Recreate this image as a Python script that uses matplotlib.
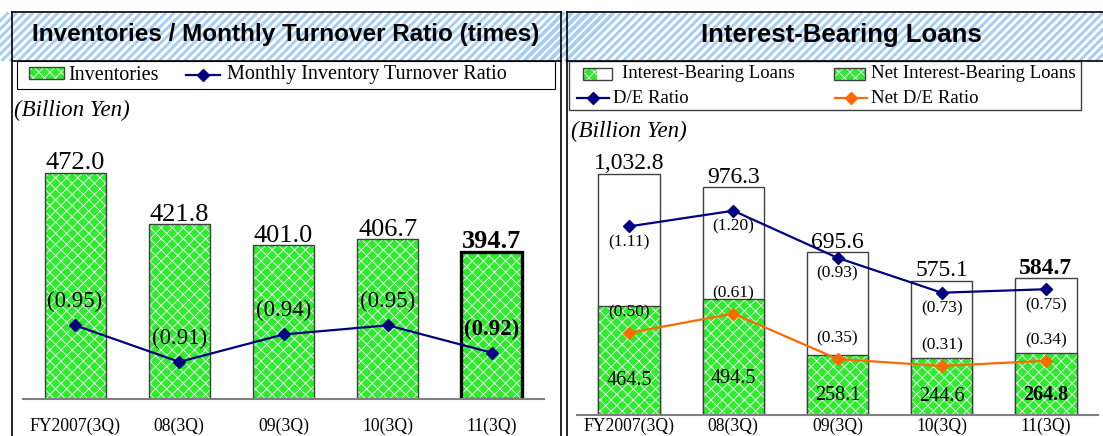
#!/usr/bin/env python3
"""Inventories / turnover and interest-bearing loans panels (3Q results)."""

import matplotlib

matplotlib.use("Agg")

import matplotlib.pyplot as plt
import numpy as np
from matplotlib.collections import LineCollection
from matplotlib.patches import Rectangle

periods = ["FY2007(3Q)", "08(3Q)", "09(3Q)", "10(3Q)", "11(3Q)"]
inventories = [472.0, 421.8, 401.0, 406.7, 394.7]
turnover = [0.95, 0.91, 0.94, 0.95, 0.92]
loans = [1032.8, 976.3, 695.6, 575.1, 584.7]
net_loans = [464.5, 494.5, 258.1, 244.6, 264.8]
de_ratio = [1.11, 1.20, 0.93, 0.73, 0.75]
net_de_ratio = [0.50, 0.61, 0.35, 0.31, 0.34]

W, H = 1103, 436
SERIF = "Liberation Serif"
SANS = "Liberation Sans"
GREEN = "#30ea30"
NAVY = "#000080"
ORANGE = "#ff6a00"
EDGE = "#404040"
STRIPE = "#a6cdf4"
INV_FLOOR = 251.0

plt.rcParams["hatch.linewidth"] = 0.6


def fig_rect(x0, y0, x1, y1):
    return [x0 / W, 1 - y1 / H, (x1 - x0) / W, (y1 - y0) / H]


def green_fill(ax, x, heights, width, bottom=0.0):
    ax.bar(x, heights, width, bottom=bottom, color=GREEN, edgecolor="white",
           hatch="xxx", linewidth=0, zorder=1)


def clean_axis(ax, keep_bottom=True):
    for name, spine in ax.spines.items():
        spine.set_visible(keep_bottom and name == "bottom")
    ax.spines["bottom"].set_color("#808080")
    ax.spines["bottom"].set_linewidth(1.5)
    ax.set_yticks([])
    ax.patch.set_visible(False)


def title_band(frame, x0, x1, text, cx, size):
    band = Rectangle((x0, 12.5), x1 - x0, 48.5, facecolor="white", edgecolor="none")
    frame.add_patch(band)
    segs = [[(s, 61), (s + 48.5, 12.5)] for s in np.arange(x0 - 52, x1 + 8, 8.3)]
    lc = LineCollection(segs, colors=STRIPE, linewidths=2.1)
    lc.set_clip_path(band)
    frame.add_collection(lc)
    frame.text(cx, 35, text, ha="center", va="center", fontsize=size,
               fontweight="bold", family=SANS)


def legend_patch(frame, x0, y0, x1, y1, split=None):
    right = x1 if split is None else split
    frame.add_patch(Rectangle((x0, y0), right - x0, y1 - y0, facecolor=GREEN,
                              edgecolor="white", hatch="xxx", linewidth=0))
    frame.add_patch(Rectangle((x0, y0), x1 - x0, y1 - y0, fill=False,
                              edgecolor=EDGE, linewidth=1.0))


def legend_line(frame, x0, x1, y, color):
    frame.plot([x0, x1], [y, y], color=color, lw=1.6)
    frame.plot([(x0 + x1) / 2], [y], marker="D", ms=6, color=color)


fig = plt.figure(figsize=(W / 100, H / 100), dpi=100)

# frame, title bands and legends, drawn in pixel coordinates
frame = fig.add_axes([0, 0, 1, 1])
frame.set_xlim(0, W)
frame.set_ylim(H, 0)
frame.axis("off")

title_band(frame, 12, 561, "Inventories / Monthly Turnover Ratio (times)", 286, 17.5)
title_band(frame, 567, W + 2, "Interest-Bearing Loans", 841, 18.5)

for xs, ys in [
    ([12, 12], [12.5, H]), ([561, 561], [12.5, H]), ([12, 561], [12.5, 12.5]),
    ([12, 561], [61, 61]), ([567, 567], [12.5, H]), ([567, W], [12.5, 12.5]),
    ([567, W], [61, 61]),
]:
    frame.plot(xs, ys, color="black", lw=1.2, clip_on=False)

frame.add_patch(Rectangle((17, 61), 538, 28.3, facecolor="white",
                          edgecolor="black", linewidth=0.8))
legend_patch(frame, 29, 67, 64, 79)
frame.text(68, 75, "Inventories", va="center", fontsize=14.5, family=SERIF)
legend_line(frame, 186, 220, 75, NAVY)
frame.text(227, 75, "Monthly Inventory Turnover Ratio", va="center",
           fontsize=14.5, family=SERIF)
frame.text(14, 110, "(Billion Yen)", va="center", fontsize=16.5,
           family=SERIF, style="italic")

frame.add_patch(Rectangle((569, 61), 512, 49, facecolor="white",
                          edgecolor=EDGE, linewidth=1.0))
legend_patch(frame, 583, 68, 612, 80, split=597)
frame.text(622, 73, "Interest-Bearing Loans", va="center", fontsize=13.5, family=SERIF)
legend_patch(frame, 834, 68, 865, 80)
frame.text(871, 73, "Net Interest-Bearing Loans", va="center", fontsize=13.5, family=SERIF)
legend_line(frame, 577, 609, 98, NAVY)
frame.text(613, 98, "D/E Ratio", va="center", fontsize=13.5, family=SERIF)
legend_line(frame, 835, 867, 98, ORANGE)
frame.text(871, 98, "Net D/E Ratio", va="center", fontsize=13.5, family=SERIF)
frame.text(571, 131, "(Billion Yen)", va="center", fontsize=16.5,
           family=SERIF, style="italic")

x = np.arange(len(periods))
last = len(periods) - 1

# left: inventories with monthly turnover ratio
ax = fig.add_axes(fig_rect(23, 140, 544, 398.5))
ax.set_zorder(2)
inv_heights = np.array(inventories) - INV_FLOOR
green_fill(ax, x, inv_heights, 0.585, bottom=INV_FLOOR)
ax.bar(x, inv_heights, 0.585, bottom=INV_FLOOR, fill=False,
       edgecolor=[EDGE] * last + ["black"], linewidth=[1.0] * last + [2.4], zorder=2)
ax.set_xlim(-0.5, 4.5)
ax.set_ylim(INV_FLOOR, 504)
clean_axis(ax)
ax.set_xticks(x, periods, fontsize=12.7, family=SERIF)
ax.tick_params(axis="x", length=0, pad=14)
for i, v in enumerate(inventories):
    ax.annotate(f"{v:.1f}", (x[i], v), xytext=(0, 2.5), textcoords="offset points",
                ha="center", va="baseline", fontsize=19, family=SERIF,
                fontweight="bold" if i == last else "normal", annotation_clip=False)

ax2 = ax.twinx()
ax2.set_zorder(3)
ax2.set_ylim(0.87, 1.1525)
ax2.plot(x, turnover, color=NAVY, lw=1.6, marker="D", ms=6)
clean_axis(ax2, keep_bottom=False)
for i, v in enumerate(turnover):
    ax2.annotate(f"({v:.2f})", (x[i], v), xytext=(0, 17), textcoords="offset points",
                 ha="center", va="center", fontsize=16.5, family=SERIF,
                 fontweight="bold" if i == last else "normal")

# right: interest-bearing loans with D/E ratios
bx = fig.add_axes(fig_rect(577, 150, 1098, 415))
bx.set_zorder(2)
bx.bar(x, loans, 0.59, color="white", edgecolor=EDGE, linewidth=1.0, zorder=1)
green_fill(bx, x, net_loans, 0.59)
bx.bar(x, net_loans, 0.59, fill=False, edgecolor=EDGE, linewidth=1.0, zorder=2)
bx.set_xlim(-0.5, 4.5)
bx.set_ylim(0, 1134)
clean_axis(bx)
bx.set_xticks(x, periods, fontsize=12.7, family=SERIF)
bx.tick_params(axis="x", length=0, pad=2)
for i, v in enumerate(loans):
    bx.annotate(f"{v:,.1f}", (x[i], v), xytext=(0, 3), textcoords="offset points",
                ha="center", va="baseline", fontsize=17, family=SERIF,
                fontweight="bold" if i == last else "normal", annotation_clip=False)
for i, v in enumerate(net_loans):
    bx.text(x[i], v * 0.32, f"{v:.1f}", ha="center", va="center", fontsize=14.5,
            family=SERIF, fontweight="bold" if i == last else "normal", zorder=4)

bx2 = bx.twinx()
bx2.set_zorder(3)
bx2.set_ylim(0.029, 1.548)
bx2.plot(x, de_ratio, color=NAVY, lw=1.6, marker="D", ms=6)
bx2.plot(x, net_de_ratio, color=ORANGE, lw=1.6, marker="D", ms=6)
clean_axis(bx2, keep_bottom=False)
for i, v in enumerate(de_ratio):
    bx2.annotate(f"({v:.2f})", (x[i], v), xytext=(0, -11.5), textcoords="offset points",
                 ha="center", va="center", fontsize=12.5, family=SERIF)
for i, v in enumerate(net_de_ratio):
    bx2.annotate(f"({v:.2f})", (x[i], v), xytext=(0, 14.5), textcoords="offset points",
                 ha="center", va="center", fontsize=12.5, family=SERIF)

fig.savefig("out.png", dpi=100)
